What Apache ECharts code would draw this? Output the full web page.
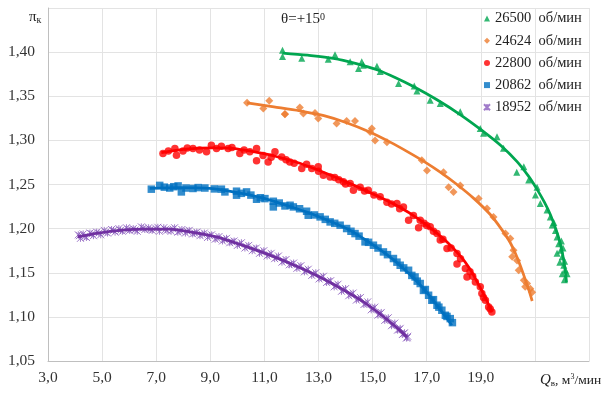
<!DOCTYPE html>
<html>
<head>
<meta charset="utf-8">
<script src="https://cdn.jsdelivr.net/npm/echarts@6/dist/echarts.min.js"></script>
<style>
  html, body { margin: 0; padding: 0; background: #fff; }
  #chart { width: 605px; height: 394px; }
</style>
</head>
<body>
<div id="chart"></div>
<script>
// Compressor pressure ratio vs. air flow, theta = +15 deg, five rotor speeds.
const speedNames = ['26500  об/мин', '24624  об/мин', '22800  об/мин', '20862  об/мин', '18952  об/мин'];
const colors = ['#00A650', '#ED7D31', '#FF0000', '#0070C0', '#7030A0'];

const xTicks = { min: 3, max: 23, step: 2 };
const yTicks = { min: 1.05, max: 1.45, step: 0.05 };

// measured points [Q, pi]
const pts26500 = [[11.67,1.402],[11.67,1.395],[12.38,1.393],[13.36,1.392],[13.61,1.397],[14.17,1.389],[14.48,1.3815],
  [14.60,1.389],[14.66,1.385],[15.16,1.384],[15.28,1.378],[15.96,1.3645],[16.54,1.3615],[16.64,1.356],[17.13,1.3456],
  [17.50,1.3418],[18.24,1.3323],[18.98,1.3135],[19.10,1.308],[19.60,1.304],[19.84,1.291],[20.33,1.264],[20.59,1.270],
  [20.77,1.255],[21.08,1.247],[21.02,1.238],[21.20,1.2285],[21.45,1.221],[21.57,1.2133],[21.64,1.204],[21.76,1.198],
  [21.82,1.1906],[21.88,1.183],[21.95,1.1755],[21.82,1.172],[22.01,1.168],[21.92,1.162],[22.07,1.1585],[22.13,1.153],
  [22.01,1.149],[22.19,1.149],[22.09,1.142],[21.70,1.207],[21.98,1.186],[22.04,1.178],[22.10,1.163]];
const pts24624 = [[10.36,1.3425],[10.96,1.336],[11.18,1.345],[11.76,1.3297],[11.76,1.330],[12.31,1.3373],[12.44,1.3305],
  [12.87,1.331],[12.99,1.3248],[13.67,1.319],[14.04,1.322],[14.35,1.322],[14.91,1.3096],[14.97,1.3135],[15.09,1.300],
  [15.53,1.298],[16.82,1.2775],[17.01,1.266],[17.62,1.264],[17.81,1.247],[17.99,1.2416],[18.24,1.249],[18.92,1.234],
  [19.23,1.2228],[19.47,1.2133],[19.91,1.1944],[20.09,1.1888],[20.21,1.1755],[20.16,1.168],[20.34,1.164],[20.40,1.1528],
  [20.59,1.1415],[20.71,1.1378],[20.83,1.132],[20.64,1.134],[20.90,1.128]];
const pts22800 = [[7.25,1.285],[7.69,1.2908],[7.75,1.2832],[7.99,1.288],[8.36,1.2908],[8.86,1.287],[9.04,1.2946],
  [9.23,1.2908],[9.41,1.2934],[9.66,1.2908],[10.09,1.285],[10.46,1.287],[10.71,1.2908],[10.71,1.2768],[11.14,1.2756],
  [11.39,1.287],[11.64,1.2813],[11.94,1.2756],[12.38,1.2681],[12.56,1.273],[12.99,1.270],[13.18,1.2605],[13.43,1.2586],
  [13.92,1.253],[14.17,1.251],[14.29,1.2435],[14.54,1.247],[14.84,1.2435],[15.28,1.236],[15.53,1.230],[15.90,1.2285],
  [16.14,1.2246],[16.33,1.2095],[16.51,1.215],[16.76,1.2095],[16.70,1.201],[17.13,1.202],[17.38,1.1945],[17.50,1.187],
  [17.75,1.1775],[18.12,1.1718],[18.12,1.160],[18.43,1.1548],[18.49,1.1452],[18.80,1.1396],[18.98,1.134],[19.04,1.1264],
  [19.17,1.1188],[19.29,1.1112],[19.41,1.1056],
  [7.45,1.288],[8.15,1.2915],[8.60,1.289],[9.80,1.292],[10.25,1.289],[10.95,1.283],[11.25,1.281],[11.80,1.278],
  [12.10,1.274],[12.75,1.268],[13.00,1.265],[13.60,1.258],[13.75,1.2555],[14.00,1.2505],[14.70,1.2425],[15.05,1.238],
  [15.70,1.228],[16.00,1.2225],[16.90,1.206],[17.00,1.2035],[17.25,1.197],[17.60,1.188],[17.90,1.178],[18.25,1.166],
  [18.60,1.151],[18.70,1.146],[19.10,1.122],[19.35,1.109]];
const pts20862 = [[6.82,1.2447],[7.13,1.249],[7.50,1.246],[7.81,1.2484],[7.93,1.2416],[8.36,1.2455],[8.80,1.246],
  [9.41,1.2447],[9.54,1.2416],[9.97,1.2424],[9.97,1.2379],[10.34,1.2416],[10.71,1.2333],[11.02,1.234],[11.33,1.231],
  [11.33,1.2246],[11.76,1.2257],[12.07,1.2246],[12.56,1.2197],[12.62,1.2152],[13.06,1.2133],[13.43,1.2076],[13.80,1.2039],
  [14.04,1.2001],[14.35,1.1944],[14.72,1.185],[15.03,1.1812],[15.40,1.1736],[15.77,1.1661],[16.02,1.1585],[16.33,1.1528],
  [16.57,1.1452],[16.76,1.1378],[16.88,1.130],[17.07,1.1245],[17.19,1.1188],[17.38,1.1132],[17.56,1.1075],[17.69,1.1018],
  [17.87,1.098],
  [7.30,1.247],[7.65,1.2475],[8.10,1.246],[8.55,1.2465],[9.15,1.245],[10.15,1.240],[10.50,1.238],[10.85,1.235],
  [11.55,1.229],[11.95,1.2265],[12.30,1.2225],[12.85,1.2155],[13.25,1.2105],[13.60,1.206],[14.20,1.197],[14.50,1.1915],
  [14.85,1.1845],[15.20,1.178],[15.55,1.1705],[15.90,1.162],[16.15,1.1555],[16.45,1.147],[16.65,1.1405],[16.95,1.131],
  [17.25,1.1195],[17.45,1.111],[17.75,1.1005],[17.95,1.0935]];
const pts18952 = [[4.12,1.193],[4.20,1.189],[4.30,1.194],[4.42,1.190],[4.55,1.195],[4.68,1.192],[4.80,1.196],[4.95,1.193],
  [5.08,1.198],[5.20,1.195],[5.35,1.199],[5.48,1.196],[5.62,1.200],[5.75,1.197],[5.90,1.201],[6.02,1.198],[6.15,1.200],
  [6.30,1.197],[6.45,1.202],[6.58,1.199],[6.72,1.201],[6.85,1.198],[7.00,1.200],[7.12,1.197],[7.28,1.201],[7.40,1.198],
  [7.55,1.197],[7.68,1.201],[7.80,1.196],[7.95,1.199],[8.08,1.195],[8.22,1.198],[8.35,1.194],[8.50,1.196],[8.62,1.192],
  [8.78,1.195],[8.90,1.190],[9.05,1.193],[9.18,1.188],[9.32,1.191],[9.45,1.186],[9.60,1.189],[9.72,1.184],[9.88,1.186],
  [10.00,1.181],[10.15,1.184],[10.28,1.178],[10.42,1.181],[10.55,1.175],[10.70,1.178],[10.82,1.172],[10.98,1.175],
  [11.10,1.169],[11.25,1.172],[11.38,1.166],[11.52,1.169],[11.65,1.162],[11.80,1.165],[11.92,1.159],[12.08,1.161],
  [12.20,1.155],[12.35,1.158],[12.48,1.151],[12.62,1.154],[12.75,1.147],[12.90,1.150],[13.02,1.143],[13.18,1.146],
  [13.30,1.139],[13.45,1.141],[13.58,1.134],[13.72,1.137],[13.85,1.129],[14.00,1.132],[14.12,1.124],[14.28,1.127],
  [14.40,1.119],[14.55,1.122],[14.68,1.114],[14.82,1.117],[14.95,1.108],[15.08,1.111],[15.20,1.102],[15.32,1.105],
  [15.45,1.096],[15.58,1.099],[15.70,1.090],[15.82,1.093],[15.92,1.085],[16.02,1.087],[16.10,1.080],[16.18,1.082],
  [16.25,1.076],[16.30,1.078],
  [4.16,1.192],[4.36,1.191],[4.62,1.194],[4.88,1.195],[5.14,1.196],[5.42,1.198],[5.68,1.198],[5.96,1.199],[6.22,1.1985],
  [6.52,1.2005],[6.78,1.199],[7.06,1.2015],[7.34,1.199],[7.62,1.1995],[7.88,1.197],[8.15,1.197],[8.42,1.195],[8.70,1.1935],
  [8.98,1.192],[9.25,1.189],[9.52,1.1875],[9.80,1.185],[10.08,1.1825],[10.35,1.1795],[10.62,1.177],[10.90,1.1735],
  [11.18,1.1705],[11.45,1.1675],[11.72,1.1635],[12.00,1.1595],[12.28,1.1565],[12.55,1.1525],[12.82,1.1485],[13.10,1.1445],
  [13.38,1.140],[13.65,1.1355],[13.92,1.1305],[14.20,1.1255],[14.48,1.1205],[14.75,1.115],[15.02,1.1095],[15.28,1.1035],
  [15.52,1.0975],[15.76,1.0915],[15.98,1.0855],[16.15,1.081],[16.28,1.0765]];

// trend curves [Q, pi]
const fit26500 = [[11.67,1.399],[12.60,1.3965],[13.55,1.393],[14.40,1.387],[15.16,1.380],[15.85,1.371],[16.51,1.361],
  [17.38,1.346],[18.25,1.329],[19.10,1.310],[19.75,1.294],[20.34,1.276],[20.75,1.260],[21.08,1.2445],[21.35,1.230],
  [21.57,1.216],[21.78,1.199],[21.94,1.183],[22.06,1.165],[22.13,1.150],[22.17,1.139]];
const fit24624 = [[10.36,1.3425],[11.35,1.338],[12.31,1.3335],[13.20,1.328],[14.04,1.320],[14.85,1.310],[15.65,1.298],
  [16.30,1.287],[16.88,1.2765],[17.50,1.264],[18.12,1.250],[18.75,1.234],[19.35,1.216],[19.75,1.200],[20.09,1.184],
  [20.36,1.166],[20.59,1.147],[20.76,1.132],[20.90,1.118]];
const fit22800 = [[7.19,1.286],[8.10,1.290],[9.10,1.2915],[9.80,1.291],[10.46,1.288],[11.40,1.282],[12.31,1.274],
  [13.25,1.263],[14.17,1.251],[15.10,1.238],[16.02,1.224],[16.65,1.212],[17.25,1.198],[17.78,1.184],[18.24,1.169],
  [18.58,1.155],[18.86,1.140],[19.15,1.123],[19.41,1.1056]];
const fit20862 = [[6.76,1.2455],[7.90,1.2465],[8.98,1.2455],[9.95,1.241],[10.96,1.2345],[11.85,1.226],[12.69,1.2175],
  [13.45,1.208],[14.17,1.198],[14.85,1.185],[15.53,1.1705],[16.10,1.156],[16.64,1.140],[17.05,1.126],[17.38,1.113],
  [17.68,1.101],[17.93,1.0905]];
const fit18952 = [[4.10,1.1906],[4.85,1.1948],[5.65,1.198],[6.55,1.1995],[7.50,1.1993],[8.35,1.1958],[9.23,1.1906],
  [10.20,1.181],[11.20,1.170],[12.15,1.158],[13.06,1.145],[13.90,1.131],[14.66,1.117],[15.20,1.105],[15.65,1.094],
  [16.00,1.085],[16.27,1.077]];

const FONT = '"Liberation Serif", "Times New Roman", serif';
const starPath = 'path://M0,0 L10,10 M10,0 L0,10 M5,0 L5,10';

const pointSets = [pts26500, pts24624, pts22800, pts20862, pts18952];
const fitSets = [fit26500, fit24624, fit22800, fit20862, fit18952];
const symbols = ['triangle', 'diamond', 'circle', 'rect', starPath];
const symbolSizes = [7, 8, 7.5, 7.5, 7];

const series = [];
pointSets.forEach((pts, i) => {
  const isStar = i === 4;
  series.push({
    name: speedNames[i],
    type: 'scatter',
    data: pts,
    symbol: symbols[i],
    symbolSize: symbolSizes[i],
    itemStyle: isStar
      ? { color: 'rgba(0,0,0,0)', borderColor: '#8a5bbd', borderWidth: 1 }
      : { color: colors[i] },
    z: 2
  });
});
fitSets.forEach((fit, i) => {
  series.push({
    type: 'line',
    data: fit,
    smooth: 0.3,
    showSymbol: false,
    silent: true,
    lineStyle: { color: colors[i], width: 2.75 },
    z: 3
  });
});

const chart = echarts.init(document.getElementById('chart'), null, { renderer: 'canvas' });
chart.setOption({
  animation: false,
  backgroundColor: '#fff',
  textStyle: { fontFamily: FONT },
  grid: { left: 48, right: 16, top: 8, bottom: 33 },
  title: [
    {
      text: 'θ=+15{s|0}', left: 276, top: 7,
      textStyle: { fontFamily: FONT, fontSize: 15, fontWeight: 'normal', color: '#222',
        rich: { s: { fontFamily: FONT, fontSize: 10, verticalAlign: 'top', color: '#222' } } }
    },
    {
      text: 'π{s|к}', left: 24, top: 5,
      textStyle: { fontFamily: FONT, fontSize: 15, fontWeight: 'normal', color: '#222',
        rich: { s: { fontFamily: FONT, fontSize: 10, verticalAlign: 'bottom', color: '#222' } } }
    },
    {
      text: '{q|Q}{s|в}, м{p|3}/мин', left: 535, top: 368,
      textStyle: { fontFamily: FONT, fontSize: 13.5, fontWeight: 'normal', color: '#222',
        rich: {
          q: { fontFamily: FONT, fontSize: 15, fontStyle: 'italic', color: '#222' },
          s: { fontFamily: FONT, fontSize: 9, verticalAlign: 'bottom', color: '#222' },
          p: { fontFamily: FONT, fontSize: 8, verticalAlign: 'top', color: '#222' }
        } }
    }
  ],
  legend: {
    orient: 'vertical',
    left: 478, top: 6,
    itemWidth: 6, itemHeight: 6,
    itemGap: 7.2,
    data: speedNames,
    textStyle: { fontFamily: FONT, fontSize: 14.5, color: '#222', lineHeight: 14.5 }
  },
  xAxis: {
    type: 'value',
    min: xTicks.min, max: xTicks.max, interval: xTicks.step,
    axisLine: { show: true, lineStyle: { color: '#BFBFBF' } },
    axisTick: { show: false },
    splitLine: { show: true, lineStyle: { color: '#E3E3E3' } },
    axisLabel: {
      fontFamily: FONT, fontSize: 15.5, color: '#333', margin: 9,
      formatter: v => (v <= 19.001 ? v.toFixed(1).replace('.', ',') : '')
    }
  },
  yAxis: {
    type: 'value',
    min: yTicks.min, max: yTicks.max, interval: yTicks.step,
    axisLine: { show: true, lineStyle: { color: '#BFBFBF' } },
    axisTick: { show: false },
    splitLine: { show: true, lineStyle: { color: '#E3E3E3' } },
    axisLabel: {
      fontFamily: FONT, fontSize: 15.5, color: '#333', margin: 13,
      formatter: v => (v > 1.449 ? '' : v.toFixed(2).replace('.', ','))
    }
  },
  series: series
});
</script>
</body>
</html>
